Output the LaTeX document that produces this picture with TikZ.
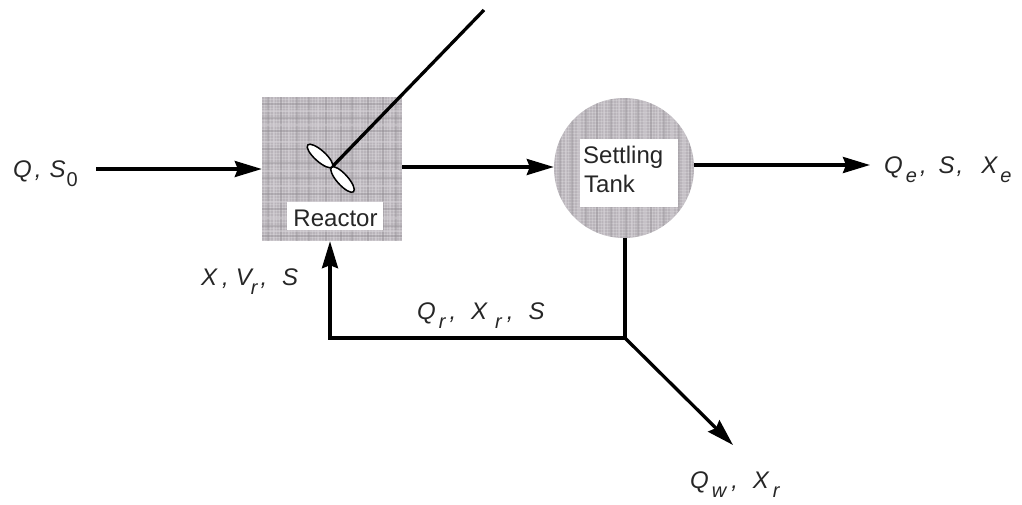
\documentclass[tikz,border=0pt]{standalone}
\usepackage{fontspec}
\setmainfont{Liberation Sans}
\usetikzlibrary{arrows.meta,shapes.geometric,calc}
\definecolor{shade}{HTML}{B9B4BA}
\definecolor{shadedk}{HTML}{8F8B90}
\definecolor{shadelt}{HTML}{D6D2D7}
\newcommand{\lowsub}[1]{\raisebox{-9pt}{\fontsize{20}{20}\selectfont #1}}
\newcommand{\gap}[1]{\hspace{#1pt}}
\tikzset{
  x=1pt,y=-1pt,
  flow/.style={line width=3.3pt,-{Stealth[length=27pt,width=16pt,inset=3pt]}},
  pipe/.style={line width=3.3pt},
  unit/.style={fill=shade,draw=none,inner sep=0pt},
  tag/.style={fill=white,inner sep=0pt},
  tagtext/.style={inner sep=0pt,text=black!85,font=\fontsize{24}{29}\selectfont},
  lab/.style={font=\itshape\fontsize{24}{28}\selectfont,inner sep=0pt,text=black!85,anchor=base west},
  blade/.style={ellipse,draw=black,fill=white,line width=1.5pt,minimum width=33pt,minimum height=11pt,inner sep=0pt},
  tex1/.style={shadedk,line width=1.2pt,opacity=.35},
  tex2/.style={shadelt,line width=1.2pt,opacity=.45},
  tex3/.style={white,line width=.7pt,opacity=.18}
}
\begin{document}
\begin{tikzpicture}
\useasboundingbox (0,0) rectangle (1022,504);
% units
\node[unit,rectangle,minimum width=140pt,minimum height=144pt] (reactor) at (332,169) {};
\node[unit,circle,minimum size=140pt] (tank) at (624,168) {};
% woven shading of both units
\begin{scope}
  \clip (262,97) rectangle (402,241);
  \foreach \p in {264,267,...,402}{\draw[tex3] (\p,97) -- (\p,241);}
  \foreach \p in {99,102,...,241}{\draw[tex3] (262,\p) -- (402,\p);}
  \foreach \p in {268,281,297,309,326,341,352,368,383,396}{\draw[tex1] (\p,97) -- (\p,241);}
  \foreach \p in {274,289,318,334,360,376,390}{\draw[tex2] (\p,97) -- (\p,241);}
  \foreach \p in {104,118,131,149,163,178,194,209,226,236}{\draw[tex1] (262,\p) -- (402,\p);}
  \foreach \p in {111,125,142,171,186,202,218,231}{\draw[tex2] (262,\p) -- (402,\p);}
\end{scope}
\begin{scope}
  \clip (624,168) circle (70);
  \foreach \p in {556,559,...,694}{\draw[tex3] (\p,97) -- (\p,239);}
  \foreach \p in {100,103,...,239}{\draw[tex3] (554,\p) -- (694,\p);}
  \foreach \p in {560,572,586,597,611,626,638,651,664,679,690}{\draw[tex1] (\p,97) -- (\p,239);}
  \foreach \p in {566,579,604,619,632,645,658,672,684}{\draw[tex2] (\p,97) -- (\p,239);}
\end{scope}
% agitator
\coordinate (hub) at (332,167);
\coordinate (shaftend) at (484,10);
\draw[line width=3.3pt] (hub) -- (shaftend);
\node[blade,rotate=-42] (bladeA) at (320,156) {};
\node[blade,rotate=-48] (bladeB) at (342.5,179.5) {};
% white labels
\node[tag,minimum width=96pt,minimum height=28pt] (reactortag) at (335,216) {};
\node[tagtext,anchor=base] (reactortext) at (335.5,226) {Reactor};
\node[tag,minimum width=98pt,minimum height=68pt] (tanktag) at (629,173) {};
\node[tagtext,anchor=base west] (settling) at (583,163) {Settling};
\node[tagtext,anchor=base west] (tanktext) at (584,192) {Tank};
% stream labels
\node[lab] (feed) at (13,177) {Q\gap{3},\gap{8}S\gap{1}\lowsub{\upshape 0}};
\node[lab] (mixed) at (201,285) {X\gap{5},\gap{7}V\gap{-1}\lowsub{r}\gap{3},\gap{15}S};
\node[lab] (recycle) at (417,319) {Q\gap{3}\lowsub{r}\gap{4},\gap{15}X\gap{8}\lowsub{r}\gap{5},\gap{15}S};
\node[lab] (effluent) at (884,173) {Q\gap{3}\lowsub{e}\gap{3},\gap{12}S\gap{2},\gap{18}X\gap{3}\lowsub{e}};
\node[lab] (waste) at (690,488) {Q\gap{3}\lowsub{w}\gap{5},\gap{15}X\gap{4}\lowsub{r}};
% connectors
\coordinate (feedstart) at (96,169);
\coordinate (effend) at (870,165);
\coordinate (junction) at (625,338);
\coordinate (corner) at (330,338);
\coordinate (wasteend) at (733,445);
\draw[flow] (feedstart) -- (reactor.west |- feedstart);
\draw[flow] (reactor.east |- 0,167) -- (tank.west |- 0,167);
\draw[flow] (tank.east |- effend) -- (effend);
\draw[pipe] (625,238) -- (junction);
\draw[flow] (junction) -- (corner) -- (corner |- reactor.south);
\draw[flow] (junction) -- (wasteend);
\end{tikzpicture}
\end{document}
